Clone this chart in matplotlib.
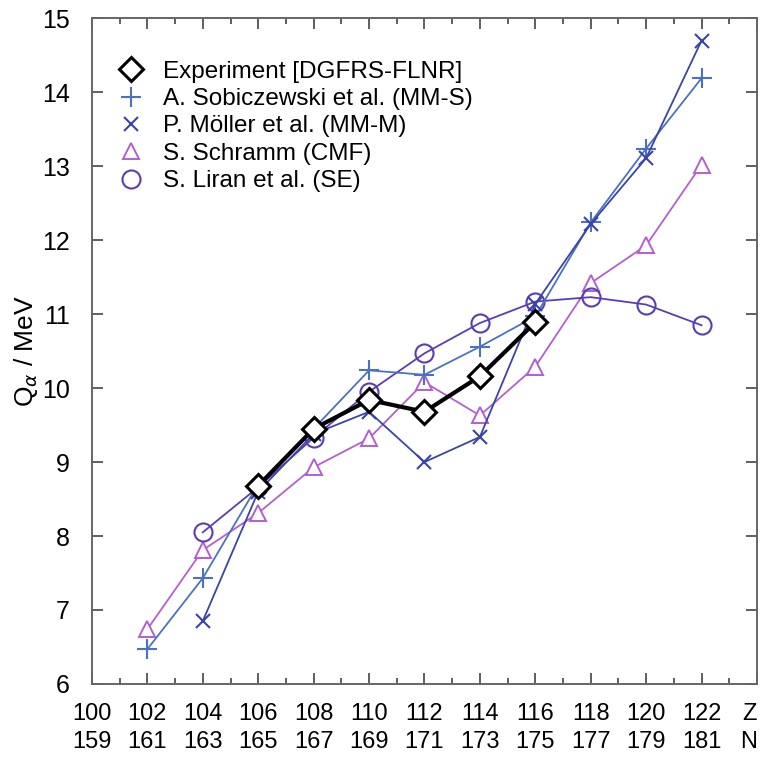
###   Q-alpha values of superheavy nuclei: experiment vs. models   ###

import matplotlib
matplotlib.use('Agg')
import matplotlib.pyplot as plt
from matplotlib.lines import Line2D
from matplotlib.ticker import MultipleLocator

##                 data                  ##
z_exp = [106, 108, 110, 112, 114, 116]
q_exp = [8.68, 9.45, 9.84, 9.68, 10.16, 10.89]

z_sob = [102, 104, 106, 108, 110, 112, 114, 116, 118, 120, 122]
q_sob = [6.47, 7.43, 8.70, 9.45, 10.24, 10.18, 10.56, 10.97, 12.24, 13.24, 14.19]

z_mol = [104, 106, 108, 110, 112, 114, 116, 118, 120, 122]
q_mol = [6.85, 8.60, 9.38, 9.68, 9.00, 9.34, 11.14, 12.22, 13.11, 14.70]

z_sch = [102, 104, 106, 108, 110, 112, 114, 116, 118, 120, 122]
q_sch = [6.74, 7.81, 8.31, 8.93, 9.32, 10.08, 9.63, 10.29, 11.42, 11.93, 13.02]

z_lir = [104, 106, 108, 110, 112, 114, 116, 118, 120, 122]
q_lir = [8.05, 8.66, 9.33, 9.95, 10.47, 10.88, 11.17, 11.23, 11.13, 10.85]

x_ticks = [100, 102, 104, 106, 108, 110, 112, 114, 116, 118, 120, 122, 124]
z_labels = ['100', '102', '104', '106', '108', '110', '112', '114', '116', '118', '120', '122', 'Z']
n_labels = ['159', '161', '163', '165', '167', '169', '171', '173', '175', '177', '179', '181', 'N']

names = ['Experiment [DGFRS-FLNR]', 'A. Sobiczewski et al. (MM-S)',
         'P. Möller et al. (MM-M)', 'S. Schramm (CMF)', 'S. Liran et al. (SE)']

##                 styles                ##
c_sob = '#4a72c4'
c_mol = '#3a44aa'
c_sch = '#b35fd2'
c_lir = '#5a3cb8'

st_exp = dict(color='black', lw=3.0, marker='D', ms=12, mfc='white', mec='black', mew=2.2)
st_sob = dict(color=c_sob, lw=1.3, marker='+', ms=14, mew=1.5)
st_mol = dict(color=c_mol, lw=1.3, marker='x', ms=10, mew=1.5)
st_sch = dict(color=c_sch, lw=1.3, marker='^', ms=11, mfc='white', mec=c_sch, mew=1.4)
st_lir = dict(color=c_lir, lw=1.3, marker='o', ms=13, mfc='none', mec=c_lir, mew=1.5)

plt.rcParams['font.family'] = ['Liberation Sans', 'DejaVu Sans']

fig = plt.figure(figsize=(7.6, 7.65), dpi=100)
ax = fig.add_axes([0.121, 0.106, 0.875, 0.870])

ax.plot(z_sch, q_sch, zorder=3, **st_sch)
ax.plot(z_lir, q_lir, zorder=3, **st_lir)
ax.plot(z_sob, q_sob, zorder=4, **st_sob)
ax.plot(z_mol, q_mol, zorder=4, **st_mol)
ax.plot(z_exp, q_exp, zorder=6, **st_exp)

##                 axes                  ##
ax.set_xlim(100, 124)
ax.set_ylim(6, 15)
ax.set_xticks(x_ticks)
ax.set_xticklabels([a + '\n' + b for a, b in zip(z_labels, n_labels)],
                   fontsize=17, linespacing=1.35)
ax.get_xticklabels()[-1].set_horizontalalignment('right')
ax.xaxis.set_minor_locator(MultipleLocator(1))
ax.yaxis.set_major_locator(MultipleLocator(1))
ax.tick_params(axis='y', labelsize=18, pad=16)
ax.tick_params(which='both', direction='in', top=True, right=True, color='#444444', width=1.2)
ax.tick_params(which='major', length=8)
ax.tick_params(which='minor', length=4)
ax.tick_params(axis='x', pad=14)
for s in ax.spines.values():
    s.set_color('#666666')
    s.set_linewidth(1.4)

ax.set_ylabel('Q$_\\alpha$ / MeV', fontsize=19, labelpad=1)

##                legend                 ##
handles = []
for st in [st_exp, st_sob, st_mol, st_sch, st_lir]:
    h = dict(st)
    h['linestyle'] = 'none'
    handles.append(Line2D([], [], **h))
ax.legend(handles, names, loc='upper left', bbox_to_anchor=(0.026, 0.951), frameon=False,
          fontsize=17.5, handlelength=1.0, handletextpad=0.8, labelspacing=0.22,
          borderaxespad=0)

fig.savefig('out.png', dpi=100)
